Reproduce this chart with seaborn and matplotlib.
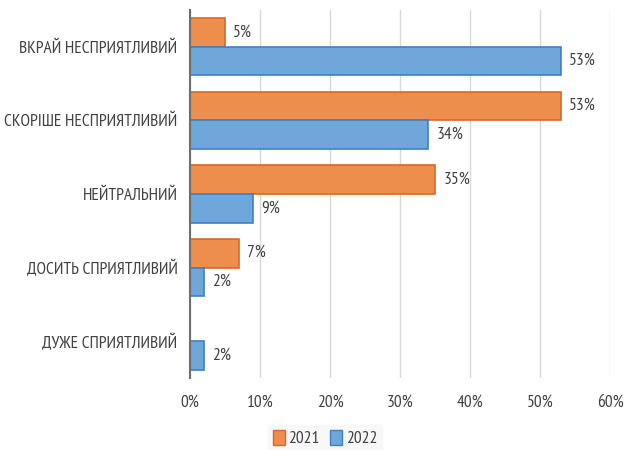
import matplotlib
matplotlib.use("Agg")
import matplotlib.pyplot as plt
import seaborn as sns
import pandas as pd
from matplotlib.patches import Patch

categories = ["ВКРАЙ НЕСПРИЯТЛИВИЙ", "СКОРІШЕ НЕСПРИЯТЛИВИЙ", "НЕЙТРАЛЬНИЙ",
              "ДОСИТЬ СПРИЯТЛИВИЙ", "ДУЖЕ СПРИЯТЛИВИЙ"]
years = ["2021", "2022"]
values_2021 = [5, 53, 35, 7, 0]
values_2022 = [53, 34, 9, 2, 2]
x_ticks = [0, 10, 20, 30, 40, 50, 60]

sns.set_theme(style="white")
plt.rcParams["font.family"] = ["PT Sans Narrow", "DejaVu Sans"]

df = pd.DataFrame({
    "category": categories * 2,
    "year": [years[0]] * len(categories) + [years[1]] * len(categories),
    "value": values_2021 + values_2022,
})

fill = {"2021": "#EE8E4C", "2022": "#6FA7DA"}
edge = {"2021": "#D5692A", "2022": "#3F7FC3"}
text_color = "#404040"
fs = 12.5

fig = plt.figure(figsize=(6.25, 4.5), dpi=100)
ax = fig.add_axes([0.304, 0.16, 0.672, 0.818])

sns.barplot(data=df, y="category", x="value", hue="year", order=categories,
            hue_order=years, palette=fill, width=0.78, orient="h",
            legend=False, ax=ax, saturation=1)

for container, yr in zip(ax.containers, years):
    for bar in container:
        bar.set_edgecolor(edge[yr])
        bar.set_linewidth(1.2)
    labels = [f"{v:.0f}%" if v > 0 else "" for v in container.datavalues]
    ax.bar_label(container, labels=labels, padding=6, fontsize=fs, color=text_color)

ax.set_xlim(0, 60)
ax.set_xticks(x_ticks)
ax.set_xticklabels([f"{t}%" for t in x_ticks], fontsize=fs, color=text_color)
ax.tick_params(axis="y", labelsize=fs, labelcolor=text_color, length=0, pad=9)
ax.tick_params(axis="x", length=0, pad=12)
ax.set_xlabel("")
ax.set_ylabel("")
ax.xaxis.grid(True, color="#D9D9D9", linewidth=1)
ax.set_axisbelow(True)
for side in ["top", "right", "bottom"]:
    ax.spines[side].set_visible(False)
ax.spines["left"].set_color("#6E6E6E")
ax.spines["left"].set_linewidth(1.5)

handles = [Patch(facecolor=fill[y], edgecolor=edge[y], label=y) for y in years]
fig.legend(handles=handles, loc="center", bbox_to_anchor=(0.52, 0.025), ncol=2,
           frameon=True, fontsize=fs, handlelength=0.7, handleheight=0.9,
           handletextpad=0.2, columnspacing=0.6, borderpad=0.3,
           facecolor="#F7F7F7", edgecolor="#F7F7F7", labelcolor=text_color)

fig.savefig("out.png", dpi=100)
